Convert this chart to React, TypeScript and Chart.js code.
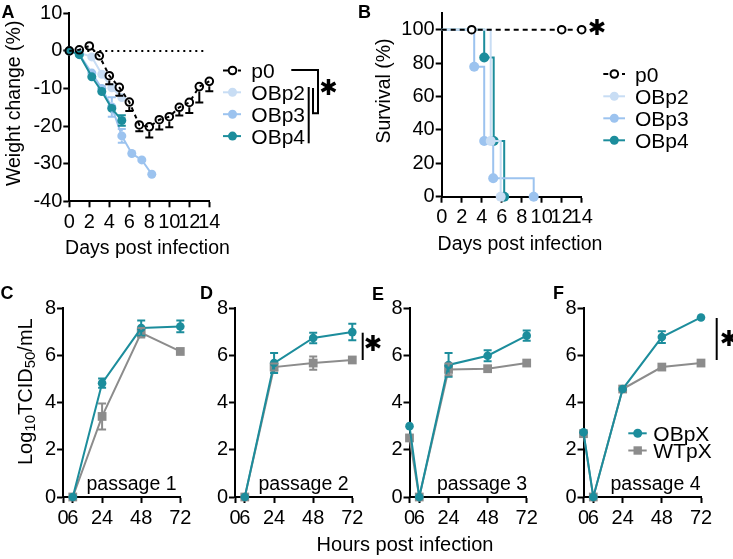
import React, { useEffect, useRef } from 'react';
import { Chart, registerables } from 'chart.js';

Chart.register(...registerables);

const FONT = '"Liberation Sans", Arial, Helvetica, sans-serif';
const STAR_FONT = '"DejaVu Sans", sans-serif';
const BLACK = '#000000';
const C_OB2 = '#c8ddf4';
const C_OB3 = '#9cc3ef';
const C_OB4 = '#1c8d9c';
const C_OBX = '#1c8d9c';
const C_WT = '#8c8c8c';

// ---------- Panel A: weight change ----------
const weightTicksX = [0, 2, 4, 6, 8, 10, 12, 14];
const weightTicksY = [-40, -30, -20, -10, 0, 10];
const weightDaysP0 = [0, 1, 2, 3, 4, 5, 6, 7, 8, 9, 10, 11, 12, 13, 14];
const weightP0 = [0, 0.3, 1.3, -1.3, -6.6, -9.7, -13.6, -19.7, -20.2, -18.3, -17.5, -15.0, -13.7, -9.5, -8.1];
const weightP0ErrLow = [0, 0, 0, 1.0, 2.3, 2.2, 2.4, 1.7, 2.8, 2.6, 2.8, 2.2, 2.8, 4.2, 2.6];
const weightDaysOBp2 = [0, 1, 2.25, 3.25, 4.25, 5.25];
const weightOBp2 = [0, -0.5, -1.6, -6.2, -9.8, -12.4];
const weightOBp2Err = [0, 0.3, 0.5, 0.6, 0.8, 0.8];
const weightDaysOBp3 = [0, 1, 2.25, 3.25, 4.25, 5.25, 6.25, 7.25, 8.25];
const weightOBp3 = [0, -0.9, -5.9, -10.0, -14.9, -22.6, -27.3, -29.0, -32.8];
const weightOBp3Err = [0, 0.3, 0.6, 0.8, 2.6, 1.8, 0, 0, 0];
const weightDaysOBp4 = [0, 1, 2.25, 3.25, 4.25, 5.25];
const weightOBp4 = [0, -1.0, -6.9, -10.8, -15.3, -18.5];
const weightOBp4Err = [0, 0.3, 0.6, 0.8, 1.2, 1.4];
const refLineDays = [0, 13.5];
const refLineValue = [0, 0];

// ---------- Panel B: survival ----------
const survTicksX = [0, 2, 4, 6, 8, 10, 12, 14];
const survTicksY = [0, 20, 40, 60, 80, 100];
const survDaysP0 = [0, 3, 12, 14];
const survP0 = [100, 100, 100, 100];
const survDaysOBp2 = [0, 4.9, 5.9];
const survOBp2 = [100, 33.3, 0];
const survDaysOBp3 = [0, 3.25, 4.25, 5.15, 9.2];
const survOBp3 = [100, 77.8, 33.3, 11.1, 0];
const survDaysOBp4 = [0, 4.25, 5.2, 6.25];
const survOBp4 = [100, 83.3, 33.3, 0];

// ---------- Panels C-F: titres ----------
const hourTicks = [0, 6, 24, 48, 72];
const titreTicks = [0, 2, 4, 6, 8];
const hoursShort = [6, 24, 48, 72];
const hoursLong = [0, 6, 24, 48, 72];
const p1OB = [0, 4.82, 7.15, 7.22];
const p1OBErr = [0, 0.2, 0.32, 0.25];
const p1WT = [0, 3.41, 6.95, 6.16];
const p1WTErr = [0, 0.55, 0.2, 0.12];
const p2OB = [0, 5.67, 6.73, 6.98];
const p2OBErr = [0, 0.42, 0.22, 0.35];
const p2WT = [0, 5.5, 5.67, 5.8];
const p2WTErr = [0, 0.15, 0.28, 0.12];
const p3OB = [3.0, 0, 5.59, 5.98, 6.83];
const p3OBErr = [0, 0, 0.5, 0.23, 0.22];
const p3WT = [2.5, 0, 5.4, 5.43, 5.67];
const p3WTErr = [0, 0, 0.25, 0.05, 0.05];
const p4OB = [2.74, 0, 4.57, 6.77, 7.6];
const p4OBErr = [0, 0, 0.05, 0.25, 0.05];
const p4WT = [2.68, 0, 4.57, 5.5, 5.67];
const p4WTErr = [0, 0, 0.05, 0.05, 0.05];

const pts = (xs: number[], ys: number[]) => xs.map((x, i) => ({ x, y: ys[i] }));

type Rect = { left: number; top: number; width: number; height: number };
type Area = { l: number; t: number; r: number; b: number };

const errorBarPlugin = {
  id: 'errorBars',
  afterDatasetsDraw(chart: any) {
    const ctx = chart.ctx;
    const xs = chart.scales.x;
    const ys = chart.scales.y;
    chart.data.datasets.forEach((ds: any) => {
      const lo = ds.errLow;
      const hi = ds.errHigh;
      if (!lo && !hi) return;
      ctx.save();
      ctx.strokeStyle = ds.errColor || ds.borderColor;
      ctx.lineWidth = 2;
      ctx.setLineDash([]);
      const cap = ds.errCap || 4;
      const off = ds.errOffset || 0;
      ds.data.forEach((p: any, j: number) => {
        const px = xs.getPixelForValue(p.x);
        const py = ys.getPixelForValue(p.y);
        const ends: number[] = [];
        if (lo && lo[j] > 0) ends.push(ys.getPixelForValue(p.y - lo[j]));
        if (hi && hi[j] > 0) ends.push(ys.getPixelForValue(p.y + hi[j]));
        ends.forEach((ey) => {
          if (Math.abs(ey - py) <= off + 0.5) return;
          const dir = ey > py ? 1 : -1;
          ctx.beginPath();
          ctx.moveTo(px, py + dir * off);
          ctx.lineTo(px, ey);
          ctx.moveTo(px - cap, ey);
          ctx.lineTo(px + cap, ey);
          ctx.stroke();
        });
      });
      ctx.restore();
    });
  },
};

function axisOpts(min: number, max: number, ticks: number[], pos: string, padding: number) {
  return {
    type: 'linear',
    position: pos,
    min,
    max,
    afterBuildTicks: (s: any) => {
      s.ticks = ticks.map((v) => ({ value: v }));
    },
    border: { display: true, color: BLACK, width: 2 },
    grid: {
      display: true,
      drawOnChartArea: false,
      drawTicks: true,
      tickLength: 6,
      tickWidth: 2,
      tickColor: BLACK,
      color: BLACK,
    },
    ticks: {
      color: BLACK,
      font: { family: FONT, size: 20 },
      padding,
      autoSkip: false,
      maxRotation: 0,
      minRotation: 0,
      callback: (v: any) => String(v),
    },
  };
}

function buildChart(
  canvas: HTMLCanvasElement,
  rect: Rect,
  area: Area,
  xr: [number, number, number[]],
  yr: [number, number, number[]],
  datasets: any[],
  decor: (ctx: CanvasRenderingContext2D) => void
) {
  const l = area.l - rect.left;
  const t = area.t - rect.top;
  const r = area.r - rect.left;
  const b = area.b - rect.top;
  const xo: any = axisOpts(xr[0], xr[1], xr[2], 'bottom', 3);
  xo.afterFit = (s: any) => {
    s.height = rect.height - b;
  };
  const yo: any = axisOpts(yr[0], yr[1], yr[2], 'left', 1);
  yo.afterFit = (s: any) => {
    s.width = l;
  };
  return new Chart(canvas, {
    type: 'line',
    data: { datasets },
    options: {
      responsive: false,
      maintainAspectRatio: false,
      animation: false,
      devicePixelRatio: 1,
      events: [],
      layout: { padding: { left: 0, top: t, right: rect.width - r, bottom: 0 } },
      plugins: { legend: { display: false }, tooltip: { enabled: false }, title: { display: false } },
      scales: { x: xo, y: yo },
    } as any,
    plugins: [
      errorBarPlugin,
      {
        id: 'decor',
        afterDraw: (chart: any) => {
          const ctx = chart.ctx as CanvasRenderingContext2D;
          ctx.save();
          ctx.translate(-rect.left, -rect.top);
          decor(ctx);
          ctx.restore();
        },
      },
    ] as any,
  });
}

// ---------- drawing helpers (page coordinates) ----------
function text(ctx: CanvasRenderingContext2D, s: string, x: number, y: number, size: number, align: CanvasTextAlign = 'left', bold = false) {
  ctx.save();
  ctx.font = `${bold ? 'bold ' : ''}${size}px ${FONT}`;
  ctx.fillStyle = BLACK;
  ctx.textAlign = align;
  ctx.textBaseline = 'alphabetic';
  ctx.fillText(s, x, y);
  ctx.restore();
}

function vText(ctx: CanvasRenderingContext2D, s: string, cx: number, cy: number, size: number) {
  ctx.save();
  ctx.translate(cx, cy);
  ctx.rotate(-Math.PI / 2);
  ctx.font = `${size}px ${FONT}`;
  ctx.fillStyle = BLACK;
  ctx.textAlign = 'center';
  ctx.textBaseline = 'middle';
  ctx.fillText(s, 0, 0);
  ctx.restore();
}

function logTitle(ctx: CanvasRenderingContext2D, baseX: number, cy: number) {
  const parts: [string, boolean][] = [
    ['Log', false],
    ['10', true],
    ['TCID', false],
    ['50', true],
    ['/mL', false],
  ];
  const main = 20;
  const sub = 15;
  ctx.save();
  let total = 0;
  parts.forEach(([s, isSub]) => {
    ctx.font = `${isSub ? sub : main}px ${FONT}`;
    total += ctx.measureText(s).width;
  });
  ctx.translate(baseX, cy);
  ctx.rotate(-Math.PI / 2);
  ctx.fillStyle = BLACK;
  ctx.textBaseline = 'alphabetic';
  ctx.textAlign = 'left';
  let x = -total / 2;
  parts.forEach(([s, isSub]) => {
    ctx.font = `${isSub ? sub : main}px ${FONT}`;
    ctx.fillText(s, x, isSub ? 3 : 0);
    x += ctx.measureText(s).width;
  });
  ctx.restore();
}

function star(ctx: CanvasRenderingContext2D, x: number, y: number, size: number) {
  ctx.save();
  ctx.font = `bold ${size}px ${STAR_FONT}`;
  ctx.fillStyle = BLACK;
  ctx.textAlign = 'center';
  ctx.textBaseline = 'middle';
  ctx.fillText('\u2731', x, y);
  ctx.restore();
}

function line(ctx: CanvasRenderingContext2D, coords: number[], width = 2, color = BLACK) {
  ctx.save();
  ctx.strokeStyle = color;
  ctx.lineWidth = width;
  ctx.setLineDash([]);
  ctx.beginPath();
  ctx.moveTo(coords[0], coords[1]);
  for (let i = 2; i < coords.length; i += 2) ctx.lineTo(coords[i], coords[i + 1]);
  ctx.stroke();
  ctx.restore();
}

type LegItem = { label: string; color: string; hollow?: boolean; dashed?: boolean; square?: boolean };

function legend(ctx: CanvasRenderingContext2D, items: LegItem[], x1: number, x2: number, mx: number, tx: number, ys: number[], size: number) {
  items.forEach((it, i) => {
    const y = ys[i];
    ctx.save();
    ctx.strokeStyle = it.color;
    ctx.fillStyle = it.color;
    ctx.lineWidth = 2;
    if (it.dashed) {
      line(ctx, [x1, y, x1 + 5, y], 2, it.color);
      line(ctx, [x2 - 3, y, x2, y], 2, it.color);
    } else {
      line(ctx, [x1, y, x2, y], 2, it.color);
    }
    ctx.beginPath();
    if (it.square) {
      ctx.rect(mx - 4.2, y - 4.2, 8.4, 8.4);
      ctx.fill();
    } else if (it.hollow) {
      ctx.arc(mx, y, 3.8, 0, Math.PI * 2);
      ctx.fillStyle = '#ffffff';
      ctx.fill();
      ctx.stroke();
    } else {
      ctx.arc(mx, y, 4.5, 0, Math.PI * 2);
      ctx.fill();
    }
    ctx.restore();
    text(ctx, it.label, tx, y + 7.5, size);
  });
}

// ---------- layout ----------
const RECTS: Rect[] = [
  { left: 0, top: 0, width: 365, height: 275 },
  { left: 355, top: 0, width: 378, height: 275 },
  { left: 0, top: 280, width: 200, height: 279 },
  { left: 185, top: 280, width: 330, height: 279 },
  { left: 360, top: 280, width: 190, height: 279 },
  { left: 545, top: 280, width: 188, height: 279 },
];
const AREAS: Area[] = [
  { l: 69.3, t: 13.3, r: 209.3, b: 201.3 },
  { l: 441.7, t: 12.6, r: 581.7, b: 196.7 },
  { l: 63, t: 308, r: 180.3, b: 497 },
  { l: 235, t: 308, r: 352.3, b: 497 },
  { l: 409.5, t: 308, r: 526.7, b: 497 },
  { l: 583.5, t: 308, r: 701, b: 497 },
];

function weightSet(label: string, xs: number[], ys: number[], color: string, err: number[], order: number) {
  return {
    label,
    data: pts(xs, ys),
    borderColor: color,
    backgroundColor: color,
    borderWidth: 2,
    pointRadius: 4.5,
    pointBorderWidth: 0,
    pointBackgroundColor: color,
    pointStyle: 'circle',
    tension: 0,
    clip: false,
    order,
    errLow: err,
    errHigh: err,
    errOffset: 4.5,
    errCap: 4,
  };
}

function survSet(label: string, xs: number[], ys: number[], color: string, order: number) {
  return {
    label,
    data: pts(xs, ys),
    borderColor: color,
    backgroundColor: color,
    borderWidth: 2,
    stepped: true,
    pointRadius: xs.map((_, i) => (i === 0 ? 0 : 5)),
    pointBorderWidth: 0,
    pointBackgroundColor: color,
    clip: false,
    order,
  };
}

function titreSets(xs: number[], ob: number[], obErr: number[], wt: number[], wtErr: number[]) {
  return [
    {
      label: 'OBpX',
      data: pts(xs, ob),
      borderColor: C_OBX,
      backgroundColor: C_OBX,
      borderWidth: 2,
      pointRadius: 4.3,
      pointBorderWidth: 0,
      pointBackgroundColor: C_OBX,
      pointStyle: 'circle',
      clip: false,
      order: 0,
      errLow: obErr,
      errHigh: obErr,
      errOffset: 3,
      errCap: 4,
    },
    {
      label: 'WTpX',
      data: pts(xs, wt),
      borderColor: C_WT,
      backgroundColor: C_WT,
      borderWidth: 2,
      pointRadius: 6.2,
      pointBorderWidth: 0,
      pointBackgroundColor: C_WT,
      pointStyle: 'rect',
      clip: false,
      order: 1,
      errLow: wtErr,
      errHigh: wtErr,
      errOffset: 3,
      errCap: 4,
    },
  ];
}

const legendA: LegItem[] = [
  { label: 'p0', color: BLACK, hollow: true, dashed: true },
  { label: 'OBp2', color: C_OB2 },
  { label: 'OBp3', color: C_OB3 },
  { label: 'OBp4', color: C_OB4 },
];
const legendF: LegItem[] = [
  { label: 'OBpX', color: C_OBX },
  { label: 'WTpX', color: C_WT, square: true },
];

export default function App() {
  const r0 = useRef<HTMLCanvasElement>(null);
  const r1 = useRef<HTMLCanvasElement>(null);
  const r2 = useRef<HTMLCanvasElement>(null);
  const r3 = useRef<HTMLCanvasElement>(null);
  const r4 = useRef<HTMLCanvasElement>(null);
  const r5 = useRef<HTMLCanvasElement>(null);
  const refs = [r0, r1, r2, r3, r4, r5];

  useEffect(() => {
    const charts: Chart[] = [];

    // A
    charts.push(
      buildChart(
        r0.current!,
        RECTS[0],
        AREAS[0],
        [0, 14, weightTicksX],
        [-40, 10, weightTicksY],
        [
          {
            label: 'p0',
            data: pts(weightDaysP0, weightP0),
            borderColor: BLACK,
            backgroundColor: 'rgba(255,255,255,0)',
            borderWidth: 2,
            borderDash: [4, 4],
            pointRadius: 3.8,
            pointBorderWidth: 2,
            pointBorderColor: BLACK,
            pointBackgroundColor: 'rgba(255,255,255,0)',
            clip: false,
            order: 0,
            errLow: weightP0ErrLow,
            errOffset: 4.8,
            errCap: 4,
          },
          weightSet('OBp4', weightDaysOBp4, weightOBp4, C_OB4, weightOBp4Err, 1),
          weightSet('OBp3', weightDaysOBp3, weightOBp3, C_OB3, weightOBp3Err, 2),
          weightSet('OBp2', weightDaysOBp2, weightOBp2, C_OB2, weightOBp2Err, 3),
          {
            label: 'ref',
            data: pts(refLineDays, refLineValue),
            borderColor: BLACK,
            borderWidth: 2,
            borderDash: [2, 4],
            pointRadius: 0,
            clip: false,
            order: 10,
          },
        ],
        (ctx) => {
          text(ctx, 'A', 1.5, 17.5, 18, 'left', true);
          vText(ctx, 'Weight change (%)', 15, 103.3, 19.5);
          text(ctx, 'Days post infection', 147.5, 254, 19.5, 'center');
          legend(ctx, legendA, 223, 241, 232.5, 251.3, [70.5, 92.3, 114.2, 136.1], 21);
          line(ctx, [291.3, 70, 318, 70, 318, 113.3, 313, 113.3, 313, 88]);
          line(ctx, [308.7, 87, 308.7, 143.3]);
          star(ctx, 328.5, 89, 22);
        }
      )
    );

    // B
    charts.push(
      buildChart(
        r1.current!,
        RECTS[1],
        AREAS[1],
        [0, 14, survTicksX],
        [0, 110, survTicksY],
        [
          {
            label: 'p0',
            data: pts(survDaysP0, survP0),
            borderColor: BLACK,
            borderWidth: 2,
            borderDash: [5, 4],
            pointRadius: survDaysP0.map((_, i) => (i === 0 ? 0 : 3.8)),
            pointBorderWidth: 2,
            pointBorderColor: BLACK,
            pointBackgroundColor: '#ffffff',
            clip: false,
            order: 0,
          },
          survSet('OBp2', survDaysOBp2, survOBp2, C_OB2, 1),
          survSet('OBp3', survDaysOBp3, survOBp3, C_OB3, 2),
          survSet('OBp4', survDaysOBp4, survOBp4, C_OB4, 3),
        ],
        (ctx) => {
          text(ctx, 'B', 358, 17.5, 18, 'left', true);
          vText(ctx, 'Survival (%)', 385, 91, 19.5);
          text(ctx, 'Days post infection', 520, 249.5, 19.5, 'center');
          legend(ctx, legendA, 603.3, 625, 614.3, 635, [74, 96.3, 118.3, 140.3], 21);
          star(ctx, 597, 29, 22);
        }
      )
    );

    // C
    charts.push(
      buildChart(r2.current!, RECTS[2], AREAS[2], [0, 72, hourTicks], [0, 8, titreTicks],
        titreSets(hoursShort, p1OB, p1OBErr, p1WT, p1WTErr),
        (ctx) => {
          text(ctx, 'C', 0.5, 298.5, 18, 'left', true);
          logTitle(ctx, 31.5, 391.7);
          text(ctx, 'passage 1', 176.5, 490, 19.5, 'right');
        })
    );

    // D
    charts.push(
      buildChart(r3.current!, RECTS[3], AREAS[3], [0, 72, hourTicks], [0, 8, titreTicks],
        titreSets(hoursShort, p2OB, p2OBErr, p2WT, p2WTErr),
        (ctx) => {
          text(ctx, 'D', 200, 298.5, 18, 'left', true);
          text(ctx, 'passage 2', 348.5, 490, 19.5, 'right');
          line(ctx, [362.7, 332.7, 362.7, 360]);
          star(ctx, 373, 345, 22);
          text(ctx, 'Hours post infection', 405, 550.5, 20, 'center');
        })
    );

    // E
    charts.push(
      buildChart(r4.current!, RECTS[4], AREAS[4], [0, 72, hourTicks], [0, 8, titreTicks],
        titreSets(hoursLong, p3OB, p3OBErr, p3WT, p3WTErr),
        (ctx) => {
          text(ctx, 'E', 372, 299.5, 18, 'left', true);
          text(ctx, 'passage 3', 527, 490, 19.5, 'right');
        })
    );

    // F
    charts.push(
      buildChart(r5.current!, RECTS[5], AREAS[5], [0, 72, hourTicks], [0, 8, titreTicks],
        titreSets(hoursLong, p4OB, p4OBErr, p4WT, p4WTErr),
        (ctx) => {
          text(ctx, 'F', 553, 298.5, 18, 'left', true);
          text(ctx, 'passage 4', 700.5, 490, 19.5, 'right');
          line(ctx, [716.7, 318, 716.7, 360]);
          star(ctx, 729, 340, 22);
          legend(ctx, legendF, 628.3, 646.7, 637.7, 653.3, [433.3, 450.5], 21);
        })
    );

    return () => charts.forEach((c) => c.destroy());
  }, []);

  return (
    <div style={{ position: 'fixed', left: 0, top: 0, width: 733, height: 559, background: '#ffffff', overflow: 'hidden' }}>
      {RECTS.map((r, i) => (
        <canvas
          key={i}
          ref={refs[i]}
          width={r.width}
          height={r.height}
          style={{ position: 'absolute', left: r.left, top: r.top, width: r.width, height: r.height }}
        />
      ))}
    </div>
  );
}
